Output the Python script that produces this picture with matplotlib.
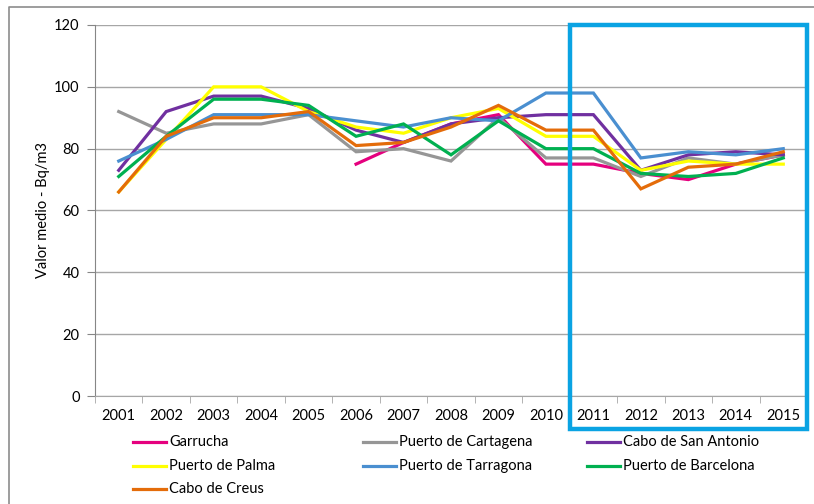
import numpy as np
import matplotlib
matplotlib.use('Agg')
import matplotlib.pyplot as plt
import matplotlib.transforms as mtransforms
from matplotlib.patches import Rectangle
from matplotlib.lines import Line2D

plt.rcParams['font.family'] = ['Lato', 'DejaVu Sans']

years = ['2001', '2002', '2003', '2004', '2005', '2006', '2007', '2008',
         '2009', '2010', '2011', '2012', '2013', '2014', '2015']
nan = np.nan

garrucha = [nan, nan, nan, nan, nan, 75, 82, 88, 91, 75, 75, 72, 70, 75, 78]
cartagena = [92, 85, 88, 88, 91, 79, 80, 76, 90, 77, 77, 71, 77, 75, 78]
san_antonio = [73, 92, 97, 97, 93, 86, 82, 88, 90, 91, 91, 73, 78, 79, 78]
palma = [66, 83, 100, 100, 92, 87, 85, 90, 93, 84, 84, 73, 76, 75, 75]
tarragona = [76, 83, 91, 91, 91, 89, 87, 90, 89, 98, 98, 77, 79, 78, 80]
barcelona = [71, 84, 96, 96, 94, 84, 88, 78, 89, 80, 80, 72, 71, 72, 77]
creus = [66, 84, 90, 90, 92, 81, 82, 87, 94, 86, 86, 67, 74, 75, 79]

series = [
    ('Garrucha', garrucha, '#E5007E'),
    ('Puerto de Cartagena', cartagena, '#969696'),
    ('Cabo de San Antonio', san_antonio, '#7030A0'),
    ('Puerto de Palma', palma, '#FFFF00'),
    ('Puerto de Tarragona', tarragona, '#4A8FD0'),
    ('Puerto de Barcelona', barcelona, '#00B050'),
    ('Cabo de Creus', creus, '#E46C0A'),
]

# years highlighted by the box
highlight_start, highlight_end = '2011', '2015'

fig = plt.figure(figsize=(8.14, 5.04), dpi=100)
ax = fig.add_axes([95 / 814, 1 - 396 / 504, 712 / 814, 371 / 504])

x = np.arange(len(years))
for name, vals, col in series:
    ax.plot(x, vals, color=col, lw=2.3, solid_joinstyle='miter', label=name)

ax.set_xlim(-0.5, len(years) - 0.5)
ax.set_ylim(0, 120)
ax.set_yticks(range(0, 121, 20))
ax.yaxis.grid(True, color='#A6A6A6', lw=1)
ax.set_axisbelow(True)

ax.set_xticks(x)
ax.set_xticklabels(years, fontsize=10.5)
ax.set_xticks(np.arange(-0.5, len(years)), minor=True)
ax.tick_params(axis='x', which='major', length=0, pad=9)
ax.tick_params(axis='x', which='minor', length=5, color='#A6A6A6', direction='out')
ax.tick_params(axis='y', length=6, color='#868686', labelsize=10.5, pad=5)

for side in ['top', 'right']:
    ax.spines[side].set_visible(False)
ax.spines['left'].set_color('#868686')
ax.spines['bottom'].set_color('#A6A6A6')

ax.set_ylabel('Valor medio - Bq/m3', fontsize=10.5, labelpad=3)

# highlight box around the last five years
trans = mtransforms.blended_transform_factory(ax.transData, ax.transAxes)
i0 = years.index(highlight_start) - 0.5
i1 = years.index(highlight_end) + 0.5
ax.add_patch(Rectangle((i0, -0.088), i1 - i0, 1.088, transform=trans,
                       fill=False, edgecolor='#0AA3E3', lw=3.2,
                       clip_on=False, zorder=5))

# legend laid out row by row in three columns
col_x = [133 / 814, 363 / 814, 587 / 814]
row_y = [1 - 442 / 504, 1 - 466 / 504, 1 - 489 / 504]
for i, (name, vals, col) in enumerate(series):
    r, c = divmod(i, 3)
    x0 = col_x[c]
    fig.add_artist(Line2D([x0, x0 + 33 / 814], [row_y[r], row_y[r]],
                          color=col, lw=2.3, transform=fig.transFigure))
    fig.text(x0 + 36 / 814, row_y[r], name, fontsize=10.5, va='center', ha='left')

# outer chart frame
fig.add_artist(Line2D([8.5 / 814, 8.5 / 814, 1.0], [0.0, 1 - 7 / 504, 1 - 7 / 504],
                      color='#8C8C8C', lw=1.2, transform=fig.transFigure))

fig.savefig('out.png', dpi=100)
